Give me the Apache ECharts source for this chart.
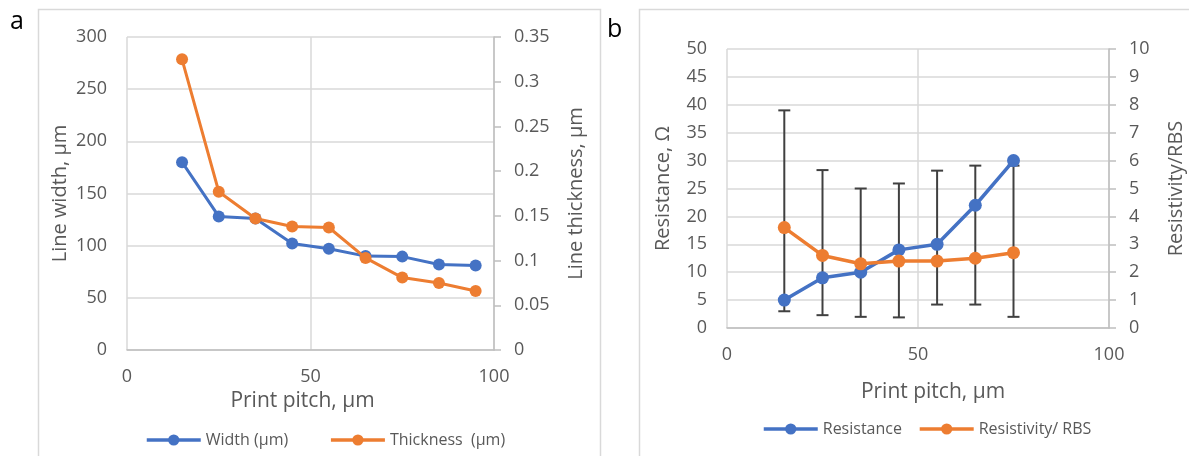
<!DOCTYPE html>
<html>
<head>
<meta charset="utf-8">
<script src="https://cdn.jsdelivr.net/npm/echarts@6/dist/echarts.min.js"></script>
<style>html,body{margin:0;padding:0;background:#fff;}#c{width:1189px;height:456px;}</style>
</head>
<body>
<div id="c"></div>
<script>
// Panel a
const pitchA = [15, 25, 35, 45, 55, 65, 75, 85, 95];
const widthUm = [180, 128, 126, 102, 97, 90, 89.5, 82, 81];
const thicknessUm = [0.325, 0.177, 0.147, 0.138, 0.137, 0.103, 0.081, 0.075, 0.066];
// Panel b
const pitchB = [15, 25, 35, 45, 55, 65, 75];
const resistance = [5, 9, 10, 14, 15, 22, 30];
const resistivity = [3.6, 2.6, 2.3, 2.4, 2.4, 2.5, 2.7];
const errHigh = [39, 28.3, 25, 25.9, 28.2, 29.1, 29.1];
const errLow = [3, 2.3, 2, 1.9, 4.2, 4.2, 2];

const BLUE = '#4472C4', ORANGE = '#ED7D31', TXT = '#595959', GRID = '#D9D9D9', AX = '#BFBFBF';
const FONT = 'Open Sans';

function pairs(xs, ys) { return xs.map((x, i) => [x, ys[i]]); }

const chart = echarts.init(document.getElementById('c'));

function xAx(gridIndex, nameGap, pad) {
  return {
    type: 'value', gridIndex, min: 0, max: 100, interval: 50,
    name: 'Print pitch, µm', nameLocation: 'middle', nameGap,
    nameTextStyle: { color: TXT, fontSize: 21, fontFamily: FONT, padding: pad },
    axisLine: { show: true, onZero: false, lineStyle: { color: AX, width: 1.5 } },
    axisTick: { show: false },
    axisLabel: { color: TXT, fontSize: 18, fontFamily: FONT, margin: 18 },
    splitLine: { show: true, lineStyle: { color: GRID, width: 1.5 } }
  };
}
function yLeft(gridIndex, name, max, interval, nameGap) {
  return {
    type: 'value', gridIndex, position: 'left', min: 0, max, interval,
    name, nameLocation: 'middle', nameGap,
    nameTextStyle: { color: TXT, fontSize: 20, fontFamily: FONT },
    axisLine: { show: false }, axisTick: { show: false },
    axisLabel: { color: TXT, fontSize: 18, fontFamily: FONT, margin: 20 },
    splitLine: { show: true, lineStyle: { color: GRID, width: 1.5 } }
  };
}
function yRight(gridIndex, name, max, interval, nameGap) {
  return {
    type: 'value', gridIndex, position: 'right', min: 0, max, interval,
    name, nameLocation: 'middle', nameGap,
    nameTextStyle: { color: TXT, fontSize: 20, fontFamily: FONT },
    axisLine: { show: true, lineStyle: { color: AX, width: 1.5 } },
    axisTick: { show: true, inside: false, length: 7, lineStyle: { color: AX, width: 1.5 } },
    axisLabel: { color: TXT, fontSize: 18, fontFamily: FONT, margin: 20 },
    splitLine: { show: false }
  };
}

const legendBase = {
  padding: 0, itemWidth: 54, itemHeight: 14,
  lineStyle: { width: 3.5 },
  textStyle: { color: TXT, fontSize: 16, fontFamily: FONT }
};

const option = {
  animation: false,
  backgroundColor: '#fff',
  textStyle: { fontFamily: FONT },
  graphic: [
    { type: 'rect', shape: { x: 38.5, y: 9.5, width: 562, height: 460 }, style: { fill: 'none', stroke: GRID, lineWidth: 1.5 }, silent: true },
    { type: 'rect', shape: { x: 639.5, y: 9.5, width: 600, height: 460 }, style: { fill: 'none', stroke: GRID, lineWidth: 1.5 }, silent: true },
    { type: 'text', left: 10, top: 9, style: { text: 'a', fontSize: 25, fontFamily: FONT, fill: '#000' } },
    { type: 'text', left: 607, top: 17, style: { text: 'b', fontSize: 25, fontFamily: FONT, fill: '#000' } }
  ],
  grid: [
    { left: 127, right: 695, top: 37, bottom: 106 },
    { left: 727, right: 80, top: 49, bottom: 128 }
  ],
  legend: [
    Object.assign({ left: 145, top: 432, itemGap: 41, data: ['Width (µm)', 'Thickness  (µm)'] }, legendBase),
    Object.assign({ left: 762, top: 421, itemGap: 16, data: ['Resistance', 'Resistivity/ RBS'] }, legendBase)
  ],
  xAxis: [xAx(0, 40, [0, 16, 0, 0]), xAx(1, 54, [0, 0, 0, 30])],
  yAxis: [
    yLeft(0, 'Line width, µm', 300, 50, 57),
    yRight(0, 'Line thickness, µm', 0.35, 0.05, 72),
    yLeft(1, 'Resistance, Ω', 50, 5, 54),
    yRight(1, 'Resistivity/RBS', 10, 1, 57)
  ],
  series: [
    { name: 'Width (µm)', type: 'line', xAxisIndex: 0, yAxisIndex: 0, data: pairs(pitchA, widthUm),
      symbol: 'circle', symbolSize: 12, itemStyle: { color: BLUE }, lineStyle: { color: BLUE, width: 3 }, z: 3 },
    { name: 'Thickness  (µm)', type: 'line', xAxisIndex: 0, yAxisIndex: 1, data: pairs(pitchA, thicknessUm),
      symbol: 'circle', symbolSize: 12, itemStyle: { color: ORANGE }, lineStyle: { color: ORANGE, width: 3 }, z: 4 },
    { name: 'errbars', type: 'custom', xAxisIndex: 1, yAxisIndex: 2, z: 2,
      data: pitchB.map((x, i) => [x, errLow[i], errHigh[i]]),
      renderItem: function (params, api) {
        const lo = api.coord([api.value(0), api.value(1)]);
        const hi = api.coord([api.value(0), api.value(2)]);
        const w = 6;
        const st = { stroke: '#404040', lineWidth: 2 };
        return { type: 'group', children: [
          { type: 'line', shape: { x1: lo[0], y1: lo[1], x2: hi[0], y2: hi[1] }, style: st },
          { type: 'line', shape: { x1: lo[0] - w, y1: lo[1], x2: lo[0] + w, y2: lo[1] }, style: st },
          { type: 'line', shape: { x1: hi[0] - w, y1: hi[1], x2: hi[0] + w, y2: hi[1] }, style: st }
        ] };
      },
      silent: true },
    { name: 'Resistance', type: 'line', xAxisIndex: 1, yAxisIndex: 2, data: pairs(pitchB, resistance),
      symbol: 'circle', symbolSize: 13, itemStyle: { color: BLUE }, lineStyle: { color: BLUE, width: 3.5 }, z: 3 },
    { name: 'Resistivity/ RBS', type: 'line', xAxisIndex: 1, yAxisIndex: 3, data: pairs(pitchB, resistivity),
      symbol: 'circle', symbolSize: 13, itemStyle: { color: ORANGE }, lineStyle: { color: ORANGE, width: 3.5 }, z: 4 }
  ]
};
chart.setOption(option);
</script>
</body>
</html>
